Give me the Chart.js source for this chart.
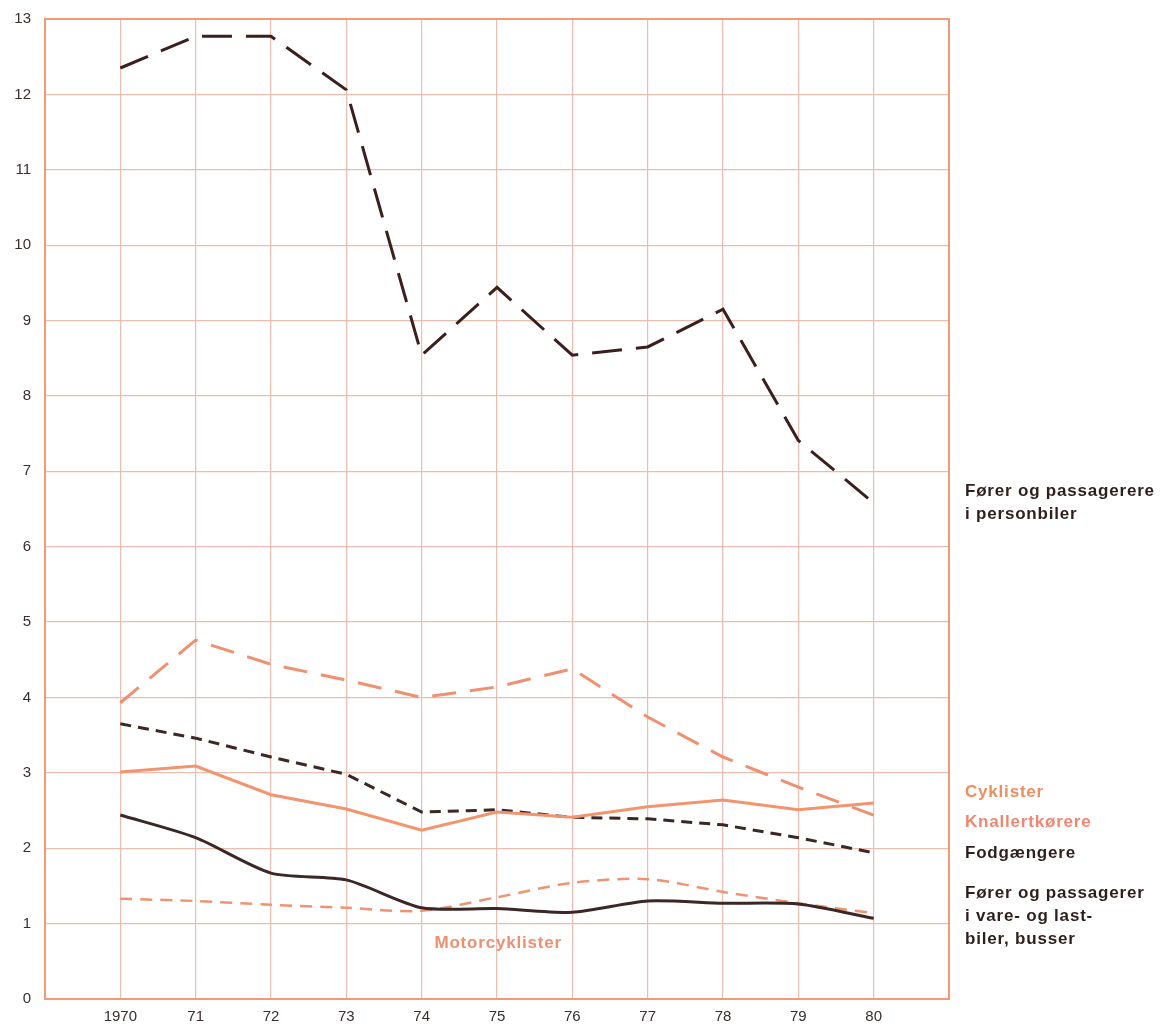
<!DOCTYPE html>
<html>
<head>
<meta charset="utf-8">
<script src="https://cdn.jsdelivr.net/npm/chart.js@4.4.0/dist/chart.umd.min.js"></script>
<style>
  html, body { margin: 0; padding: 0; background: #fff; }
  #wrap { width: 1168px; height: 1024px; }
</style>
</head>
<body>
<div id="wrap"><canvas id="chart" width="1168" height="1024"></canvas></div>
<script>
const years = [1970, 1971, 1972, 1973, 1974, 1975, 1976, 1977, 1978, 1979, 1980];
const yTicks = [0, 1, 2, 3, 4, 5, 6, 7, 8, 9, 10, 11, 12, 13];

const personbiler = [12.35, 12.77, 12.77, 12.06, 8.54, 9.44, 8.54, 8.65, 9.15, 7.41, 6.58];
const knallert = [3.93, 4.76, 4.44, 4.23, 4.0, 4.14, 4.38, 3.74, 3.21, 2.81, 2.44];
const cyklister = [3.01, 3.09, 2.71, 2.52, 2.24, 2.48, 2.41, 2.55, 2.64, 2.51, 2.6];
const fodgaengere = [3.65, 3.46, 3.21, 2.98, 2.48, 2.51, 2.41, 2.39, 2.31, 2.14, 1.94];
const lastbiler = [2.44, 2.14, 1.67, 1.58, 1.21, 1.2, 1.15, 1.3, 1.27, 1.26, 1.07];
const motorcykler = [1.33, 1.3, 1.25, 1.21, 1.17, 1.35, 1.54, 1.59, 1.42, 1.27, 1.14];

const toPoints = (arr) => arr.map((v, i) => ({ x: years[i], y: v }));

// labels beside the lines
const sideLabels = [
  { lines: ["Fører og passagerere", "i personbiler"], y: 6.74, color: "#2e1f1d" },
  { lines: ["Cyklister"], y: 2.74, color: "#ee8d62" },
  { lines: ["Knallertkørere"], y: 2.34, color: "#ee8772" },
  { lines: ["Fodgængere"], y: 1.93, color: "#2e1f1d" },
  { lines: ["Fører og passagerer", "i vare- og last-", "biler, busser"], y: 1.4, color: "#2e1f1d" },
];

const frameAndLabels = {
  id: "frameAndLabels",
  afterDraw(chart) {
    const { ctx, chartArea: a, scales } = chart;
    ctx.save();
    ctx.strokeStyle = "#f39a74";
    ctx.lineWidth = 2;
    ctx.strokeRect(a.left, a.top, a.right - a.left, a.bottom - a.top);

    ctx.font = "bold 17px 'Liberation Sans', Arial, sans-serif";
    ctx.letterSpacing = "0.8px";
    ctx.textBaseline = "middle";
    ctx.textAlign = "left";
    sideLabels.forEach((l) => {
      ctx.fillStyle = l.color;
      const y0 = scales.y.getPixelForValue(l.y);
      l.lines.forEach((t, i) => ctx.fillText(t, a.right + 16, y0 + i * 23));
    });

    ctx.fillStyle = "#ee9070";
    ctx.fillText("Motorcyklister", scales.x.getPixelForValue(1974.17), scales.y.getPixelForValue(0.74));
    ctx.restore();
  },
};

const gridColor = (c) => {
  const v = c.tick.value;
  return v < 1970 || v > 1980 ? "rgba(0,0,0,0)" : "#ebbcb0";
};

new Chart(document.getElementById("chart"), {
  type: "line",
  data: {
    datasets: [
      { data: toPoints(personbiler), borderColor: "#3a1f1d", borderWidth: 3, borderDash: [30, 14] },
      { data: toPoints(knallert), borderColor: "#ef9070", borderWidth: 3, borderDash: [24, 14] },
      { data: toPoints(cyklister), borderColor: "#f2956e", borderWidth: 3 },
      { data: toPoints(fodgaengere), borderColor: "#3b2824", borderWidth: 3, borderDash: [11, 7] },
      { data: toPoints(lastbiler), borderColor: "#3c2626", borderWidth: 3, tension: 0.25 },
      { data: toPoints(motorcykler), borderColor: "#ee9472", borderWidth: 2.5, borderDash: [12, 8], tension: 0.3 },
    ],
  },
  options: {
    responsive: false,
    animation: false,
    events: [],
    layout: { padding: { top: 19, right: 219, bottom: 0, left: 0 } },
    elements: { point: { radius: 0 }, line: { tension: 0 } },
    plugins: { legend: { display: false }, tooltip: { enabled: false } },
    scales: {
      x: {
        type: "linear",
        min: 1969,
        max: 1981,
        afterBuildTicks: (s) => { s.ticks = [1969].concat(years, [1981]).map((v) => ({ value: v })); },
        afterFit: (s) => { s.height = 25; s.paddingLeft = 0; s.paddingRight = 0; },
        grid: { color: gridColor, lineWidth: 1.2, drawTicks: false },
        border: { display: false },
        ticks: {
          padding: 9,
          maxRotation: 0,
          autoSkip: false,
          color: "#3a2e2c",
          font: { family: "'Liberation Sans', Arial, sans-serif", size: 15 },
          callback: (v) => (v === 1970 ? "1970" : v > 1970 && v <= 1980 ? String(v).slice(2) : ""),
        },
      },
      y: {
        min: 0,
        max: 13,
        afterBuildTicks: (s) => { s.ticks = yTicks.map((v) => ({ value: v })); },
        afterFit: (s) => { s.width = 45; s.paddingTop = 0; s.paddingBottom = 0; },
        grid: { color: "#ebbcb0", lineWidth: 1.2, drawTicks: false },
        border: { display: false },
        ticks: {
          padding: 14,
          color: "#3a2e2c",
          font: { family: "'Liberation Sans', Arial, sans-serif", size: 15 },
        },
      },
    },
  },
  plugins: [frameAndLabels],
});
</script>
</body>
</html>
